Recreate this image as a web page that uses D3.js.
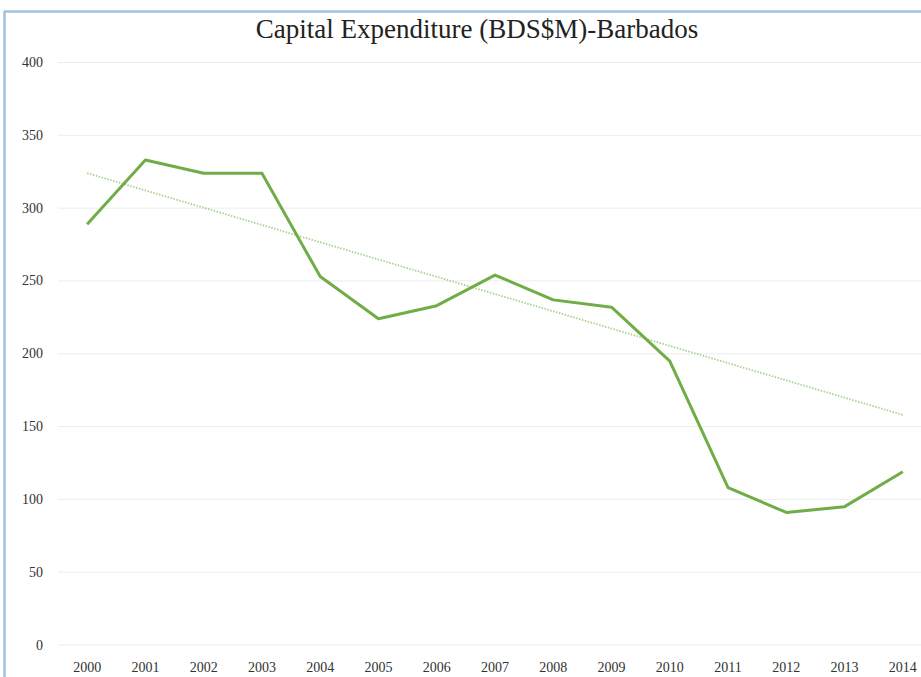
<!DOCTYPE html>
<html>
<head>
<meta charset="utf-8">
<title>Capital Expenditure - Barbados</title>
<script src="https://d3js.org/d3.v7.min.js"></script>
<style>
    body { margin: 0; background: #fff; }
    .tick-label { fill: #333; font-family: 'Liberation Serif', serif; font-size: 14px; }
</style>
</head>
<body>
<div id="chart"></div>
<script>
    var years = ['2000','2001','2002','2003','2004','2005','2006','2007','2008','2009','2010','2011','2012','2013','2014'];
    var capex = [289, 333, 324, 324, 253, 224, 233, 254, 237, 232, 195, 108, 91, 95, 119];
    // linear trend line as drawn in the source (first and last year values)
    var trendEnds = [324, 158];
    var yTicks = [0, 50, 100, 150, 200, 250, 300, 350, 400];

    var width = 921, height = 677;

    var svg = d3.select('#chart')
        .append('svg')
        .attr('width', width)
        .attr('height', height);

    var x = d3.scalePoint().domain(years).range([58, 932]).padding(0.5);
    var y = d3.scaleLinear().domain([0, 400]).range([645, 62.5]);

    // frame (light blue edges visible at top and left)
    svg.append('line').attr('x1', 4.5).attr('x2', 4.5).attr('y1', 11).attr('y2', height)
        .style('stroke', '#9DC3E6').style('stroke-width', 2.5);
    svg.append('line').attr('x1', 4).attr('x2', width).attr('y1', 11.5).attr('y2', 11.5)
        .style('stroke', '#9DC3E6').style('stroke-width', 2.5);

    // grid
    svg.append('g').selectAll('line')
        .data(yTicks)
        .join('line')
        .attr('x1', 58).attr('x2', 932)
        .attr('y1', function(d){ return y(d); })
        .attr('y2', function(d){ return y(d); })
        .style('stroke', '#ececec')
        .style('stroke-width', 1);

    svg.append('g').selectAll('text')
        .data(yTicks)
        .join('text')
        .attr('class', 'tick-label')
        .attr('x', 43)
        .attr('y', function(d){ return y(d) + 4.5; })
        .attr('text-anchor', 'end')
        .text(function(d){ return d; });

    svg.append('g').selectAll('text')
        .data(years)
        .join('text')
        .attr('class', 'tick-label')
        .attr('x', function(d){ return x(d); })
        .attr('y', 672)
        .attr('text-anchor', 'middle')
        .text(function(d){ return d; });

    // trend line
    svg.append('line')
        .attr('x1', x(years[0])).attr('y1', y(trendEnds[0]))
        .attr('x2', x(years[years.length - 1])).attr('y2', y(trendEnds[1]))
        .style('stroke', '#A9D18E')
        .style('stroke-width', 1.8)
        .style('stroke-dasharray', '1.5,1.5');

    // main series
    var line = d3.line()
        .x(function(d, i){ return x(years[i]); })
        .y(function(d){ return y(d); });

    svg.append('path')
        .datum(capex)
        .attr('d', line)
        .style('fill', 'none')
        .style('stroke', '#70AD47')
        .style('stroke-width', 3)
        .style('stroke-linejoin', 'round');

    svg.append('text')
        .attr('x', 477)
        .attr('y', 38)
        .attr('text-anchor', 'middle')
        .text('Capital Expenditure (BDS$M)-Barbados')
        .style('fill', '#222')
        .style('font-family', 'Liberation Serif, serif')
        .style('font-size', '27px');
</script>
</body>
</html>
